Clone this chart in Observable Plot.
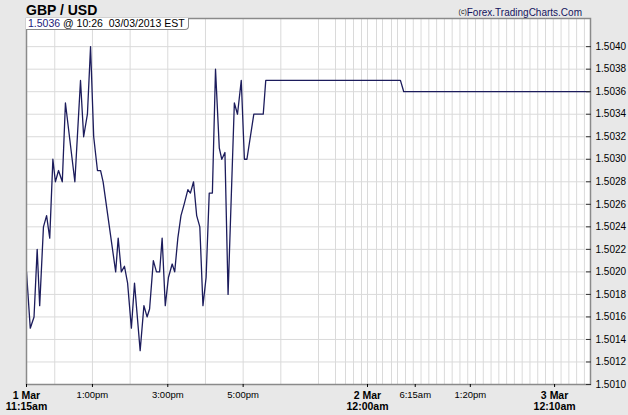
<!DOCTYPE html>
<html><head><meta charset="utf-8">
<script src="https://cdn.jsdelivr.net/npm/d3@7"></script>
<script src="https://cdn.jsdelivr.net/npm/@observablehq/plot@0.6"></script>
<style>
html,body{margin:0;padding:0;background:#e8e8e8;}
#wrap{position:relative;width:628px;height:415px;overflow:hidden;font-family:"Liberation Sans",Arial,sans-serif;}
#chart{position:absolute;left:0;top:0;}
#title{position:absolute;left:26px;top:4px;font-size:14px;line-height:12px;font-weight:bold;color:#000;white-space:nowrap;}
#credit{position:absolute;right:46px;top:6.5px;font-size:10px;line-height:10px;color:#14145e;white-space:nowrap;}
#credit span{font-size:7px;vertical-align:2px;color:#222;}
#info{position:absolute;left:26px;top:18px;height:11px;font-size:10.5px;line-height:11px;padding:0 3px 0 2px;background:#fff;border-right:1px solid #8a8a8a;border-bottom:1px solid #8a8a8a;border-bottom-right-radius:4px;white-space:nowrap;color:#000;}
#info b{font-weight:normal;color:#1c1c7a;}
</style></head>
<body>
<div id="wrap">
  <div id="chart"></div>
  <div id="title">GBP / USD</div>
  <div id="credit"><span>(c)</span>Forex.TradingCharts.Com</div>
  <div id="info"><b>1.5036</b> @ 10:26&nbsp; 03/03/2013 EST</div>
</div>
<script>
// ---- data ----
const times = [
  "2013-03-01T11:15","2013-03-01T11:21","2013-03-01T11:27","2013-03-01T11:32","2013-03-01T11:36",
  "2013-03-01T11:42","2013-03-01T11:47","2013-03-01T11:52","2013-03-01T11:57","2013-03-01T12:01",
  "2013-03-01T12:06","2013-03-01T12:12","2013-03-01T12:17","2013-03-01T12:32","2013-03-01T12:41",
  "2013-03-01T12:46","2013-03-01T12:52","2013-03-01T12:57","2013-03-01T13:02","2013-03-01T13:08",
  "2013-03-01T13:13","2013-03-01T13:17","2013-03-01T13:37","2013-03-01T13:41","2013-03-01T13:46",
  "2013-03-01T13:51","2013-03-01T13:56","2013-03-01T14:02","2013-03-01T14:07","2013-03-01T14:16",
  "2013-03-01T14:22","2013-03-01T14:27","2013-03-01T14:31","2013-03-01T14:37","2013-03-01T14:42",
  "2013-03-01T14:47","2013-03-01T14:51","2013-03-01T14:56","2013-03-01T15:01","2013-03-01T15:07",
  "2013-03-01T15:11","2013-03-01T15:16","2013-03-01T15:21","2013-03-01T15:26","2013-03-01T15:32",
  "2013-03-01T15:36","2013-03-01T15:41","2013-03-01T15:46","2013-03-01T15:51","2013-03-01T15:56",
  "2013-03-01T16:01","2013-03-01T16:06","2013-03-01T16:11","2013-03-01T16:16","2013-03-01T16:22",
  "2013-03-01T16:26","2013-03-01T16:31","2013-03-01T16:36","2013-03-01T16:46","2013-03-01T16:51",
  "2013-03-01T16:57","2013-03-01T17:02","2013-03-01T17:06","2013-03-01T17:17","2013-03-01T17:32",
  "2013-03-01T17:36","2013-03-02T04:22","2013-03-02T04:47","2013-03-03T10:26"
];
const rates = [
  1.5020,1.5015,1.5016,1.5022,1.5017,
  1.5024,1.5025,1.5023,1.5030,1.5028,
  1.5029,1.5028,1.5035,1.5028,1.5037,
  1.5032,1.5034,1.5040,1.5032,1.5029,
  1.5029,1.5028,1.5020,1.5023,1.5020,
  1.50205,1.5019,1.5015,1.5019,1.5013,
  1.5017,1.5016,1.50167,1.5021,1.5020,
  1.5020,1.5023,1.5017,1.50195,1.50207,
  1.5020,1.5023,1.5025,1.5026,1.50273,
  1.5027,1.5028,1.5025,1.5024,1.5017,
  1.50195,1.5027,1.5027,1.5038,1.5031,
  1.5030,1.50306,1.5018,1.5035,1.5034,
  1.5037,1.5030,1.5030,1.5034,1.5034,
  1.5037,1.5037,1.5036,1.5036
];
const yTicks = [1.5010,1.5012,1.5014,1.5016,1.5018,1.5020,1.5022,1.5024,1.5026,1.5028,1.5030,1.5032,1.5034,1.5036,1.5038,1.5040];
const timeTickLabels = ["2013-03-01T13:00","2013-03-01T15:00","2013-03-01T17:00","2013-03-02T06:15","2013-03-02T13:20"];
const dateTickLabels = ["2013-03-01T11:15","2013-03-02T00:00","2013-03-03T00:10"];

// ---- compressed time axis (piecewise scale knots) ----
const knotTimes = ["2013-03-01T11:15","2013-03-01T19:00","2013-03-01T20:00","2013-03-01T21:00","2013-03-01T22:00",
  "2013-03-01T23:00","2013-03-02T00:00","2013-03-02T01:00","2013-03-02T02:00","2013-03-02T03:00",
  "2013-03-02T04:00","2013-03-02T05:00","2013-03-03T04:47"];
const knotPx = [26,318,335,345,353,361,367,376,382,391,397,405,590];

const parse = d3.utcParse("%Y-%m-%dT%H:%M");
const data = times.map((t, i) => ({t: parse(t), v: rates[i]}));
const kT = knotTimes.map(parse);
const hourGrid = d3.utcHour.range(parse("2013-03-01T12:00"), kT[kT.length - 1]);
const fmtTime = d => d3.utcFormat("%-I:%M%p")(d).toLowerCase();
const fmtDate = d => d3.utcFormat("%-d %b")(d) + "\n" + fmtTime(d);

const chart = Plot.plot({
  width: 628, height: 415,
  marginLeft: 26, marginRight: 38, marginTop: 18, marginBottom: 31,
  style: {background: "transparent", fontFamily: "'Liberation Sans', Arial, sans-serif", color: "#000"},
  x: {type: "utc", domain: kT, range: knotPx, label: null},
  y: {domain: [1.5010, 1.50425], label: null},
  marks: [
    Plot.frame({fill: "#fff", stroke: "none"}),
    Plot.ruleX(hourGrid, {stroke: "#dadada", strokeWidth: 1}),
    Plot.ruleY(yTicks, {stroke: "#dadada", strokeWidth: 1}),
    Plot.line(data, {x: "t", y: "v", stroke: "#1c1c5c", strokeWidth: 1.3, clip: true}),
    Plot.frame({stroke: "#8a8a8a", strokeWidth: 1.5}),
    Plot.axisY(yTicks, {anchor: "right", label: null, tickSize: -5, tickPadding: 10, tickFormat: d3.format(".4f"), fontSize: 10, stroke: "#333"}),
    Plot.axisX(timeTickLabels.map(parse), {anchor: "bottom", label: null, tickSize: 3, tickPadding: 4, tickFormat: fmtTime, fontSize: 9.5}),
    Plot.axisX(dateTickLabels.map(parse), {anchor: "bottom", label: null, tickSize: 3, tickPadding: 4, tickFormat: fmtDate, fontSize: 10.5, fontWeight: "bold", lineHeight: 1.05})
  ]
});
document.getElementById("chart").appendChild(chart);
</script>
</body></html>
